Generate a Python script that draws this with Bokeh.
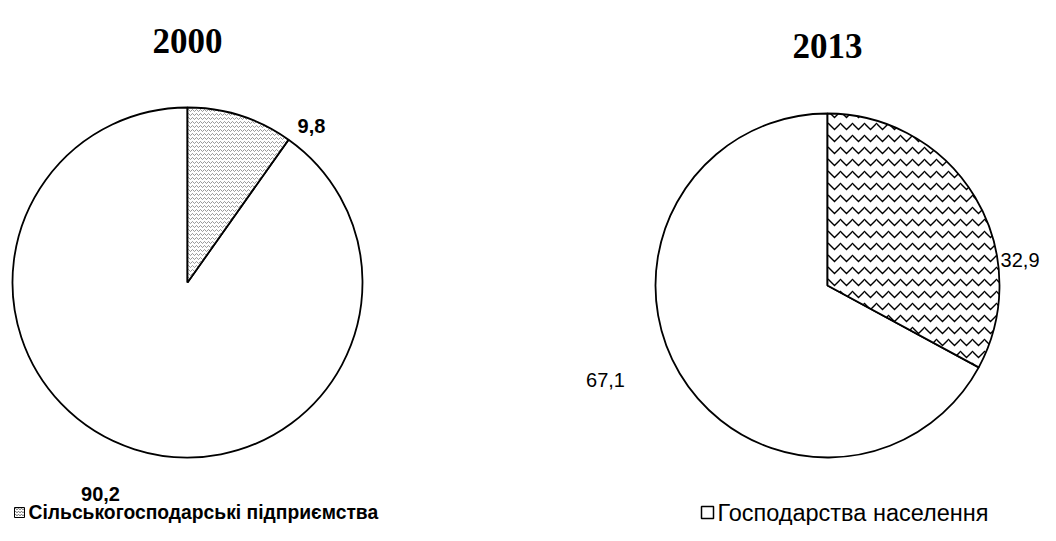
from bokeh.plotting import figure
from bokeh.models import Range1d
from bokeh.embed import file_html
from bokeh.resources import INLINE
from bokeh.core.properties import value
import math

years = ["2000", "2013"]
categories = ["Сільськогосподарські  підприємства", "Господарства  населення"]
enterprises = [9.8, 32.9]
households = [90.2, 67.1]

W, H = 1040, 525
p = figure(width=W, height=H, output_backend="svg", toolbar_location=None,
           x_range=Range1d(0, W), y_range=Range1d(0, H), min_border=0)
p.axis.visible = False
p.grid.visible = False
p.outline_line_color = None
p.background_fill_color = "white"
p.border_fill_color = "white"

def Y(img_y):
    return H - img_y

def X(img_x):
    return img_x

centers = [(X(187), Y(282), 175), (X(827), Y(285), 172)]
title_y = [40, 45]
hatch_styles = [dict(hatch_pattern="horizontal_wave", hatch_scale=4, hatch_weight=0.6, hatch_color="#555555"),
                dict(hatch_pattern="horizontal_wave", hatch_scale=12, hatch_weight=1.4, hatch_color="black")]

for i, (cx, cy, r) in enumerate(centers):
    frac = enterprises[i] / (enterprises[i] + households[i])
    a0 = math.pi / 2
    a1 = a0 - 2 * math.pi * frac
    p.wedge(x=[cx], y=[cy], radius=r, radius_units="screen",
            start_angle=a1 - 2 * math.pi * (1 - frac), end_angle=a1,
            fill_color="white", line_color="black", line_width=1.8)
    p.wedge(x=[cx], y=[cy], radius=r, radius_units="screen",
            start_angle=a1, end_angle=a0,
            fill_color="white", line_color="black", line_width=1.8,
            **hatch_styles[i])
    p.text(x=[cx], y=[Y(title_y[i])], text=[years[i]],
           text_font=value("Liberation Serif"), text_font_style="bold",
           text_font_size="35px", text_align="center", text_baseline="middle",
           text_color="black")

def fmt(v):
    return ("%.1f" % v).replace(".", ",")

# value labels
p.text(x=[X(311)], y=[Y(125)], text=[fmt(enterprises[0])], text_font=value("Liberation Sans"),
       text_font_style="bold", text_font_size="20px", text_align="center", text_baseline="middle")
p.text(x=[X(100)], y=[Y(493)], text=[fmt(households[0])], text_font=value("Liberation Sans"),
       text_font_style="bold", text_font_size="20px", text_align="center", text_baseline="middle")
p.text(x=[X(1039)], y=[Y(259)], text=[fmt(enterprises[1])], text_font=value("Liberation Sans"),
       text_font_size="20px", text_align="right", text_baseline="middle")
p.text(x=[X(605)], y=[Y(379)], text=[fmt(households[1])], text_font=value("Liberation Sans"),
       text_font_size="20px", text_align="center", text_baseline="middle")

# legends
p.rect(x=[X(19)], y=[Y(512)], width=10, height=10, width_units="screen", height_units="screen",
       fill_color="white", line_color="black", line_width=1,
       hatch_pattern="horizontal_wave", hatch_scale=3, hatch_weight=0.8, hatch_color="#333333")
p.text(x=[X(28)], y=[Y(512)], text=[categories[0]], text_font=value("Liberation Sans"),
       text_font_style="bold", text_font_size="19.3px", text_align="left", text_baseline="middle")
p.rect(x=[X(707)], y=[Y(512)], width=12, height=12, width_units="screen", height_units="screen",
       fill_color="white", line_color="black", line_width=1.5)
p.text(x=[X(717)], y=[Y(512)], text=[categories[1]], text_font=value("Liberation Sans"),
       text_font_size="23.5px", text_align="left", text_baseline="middle")

open("out.html", "w").write(file_html(p, INLINE))
